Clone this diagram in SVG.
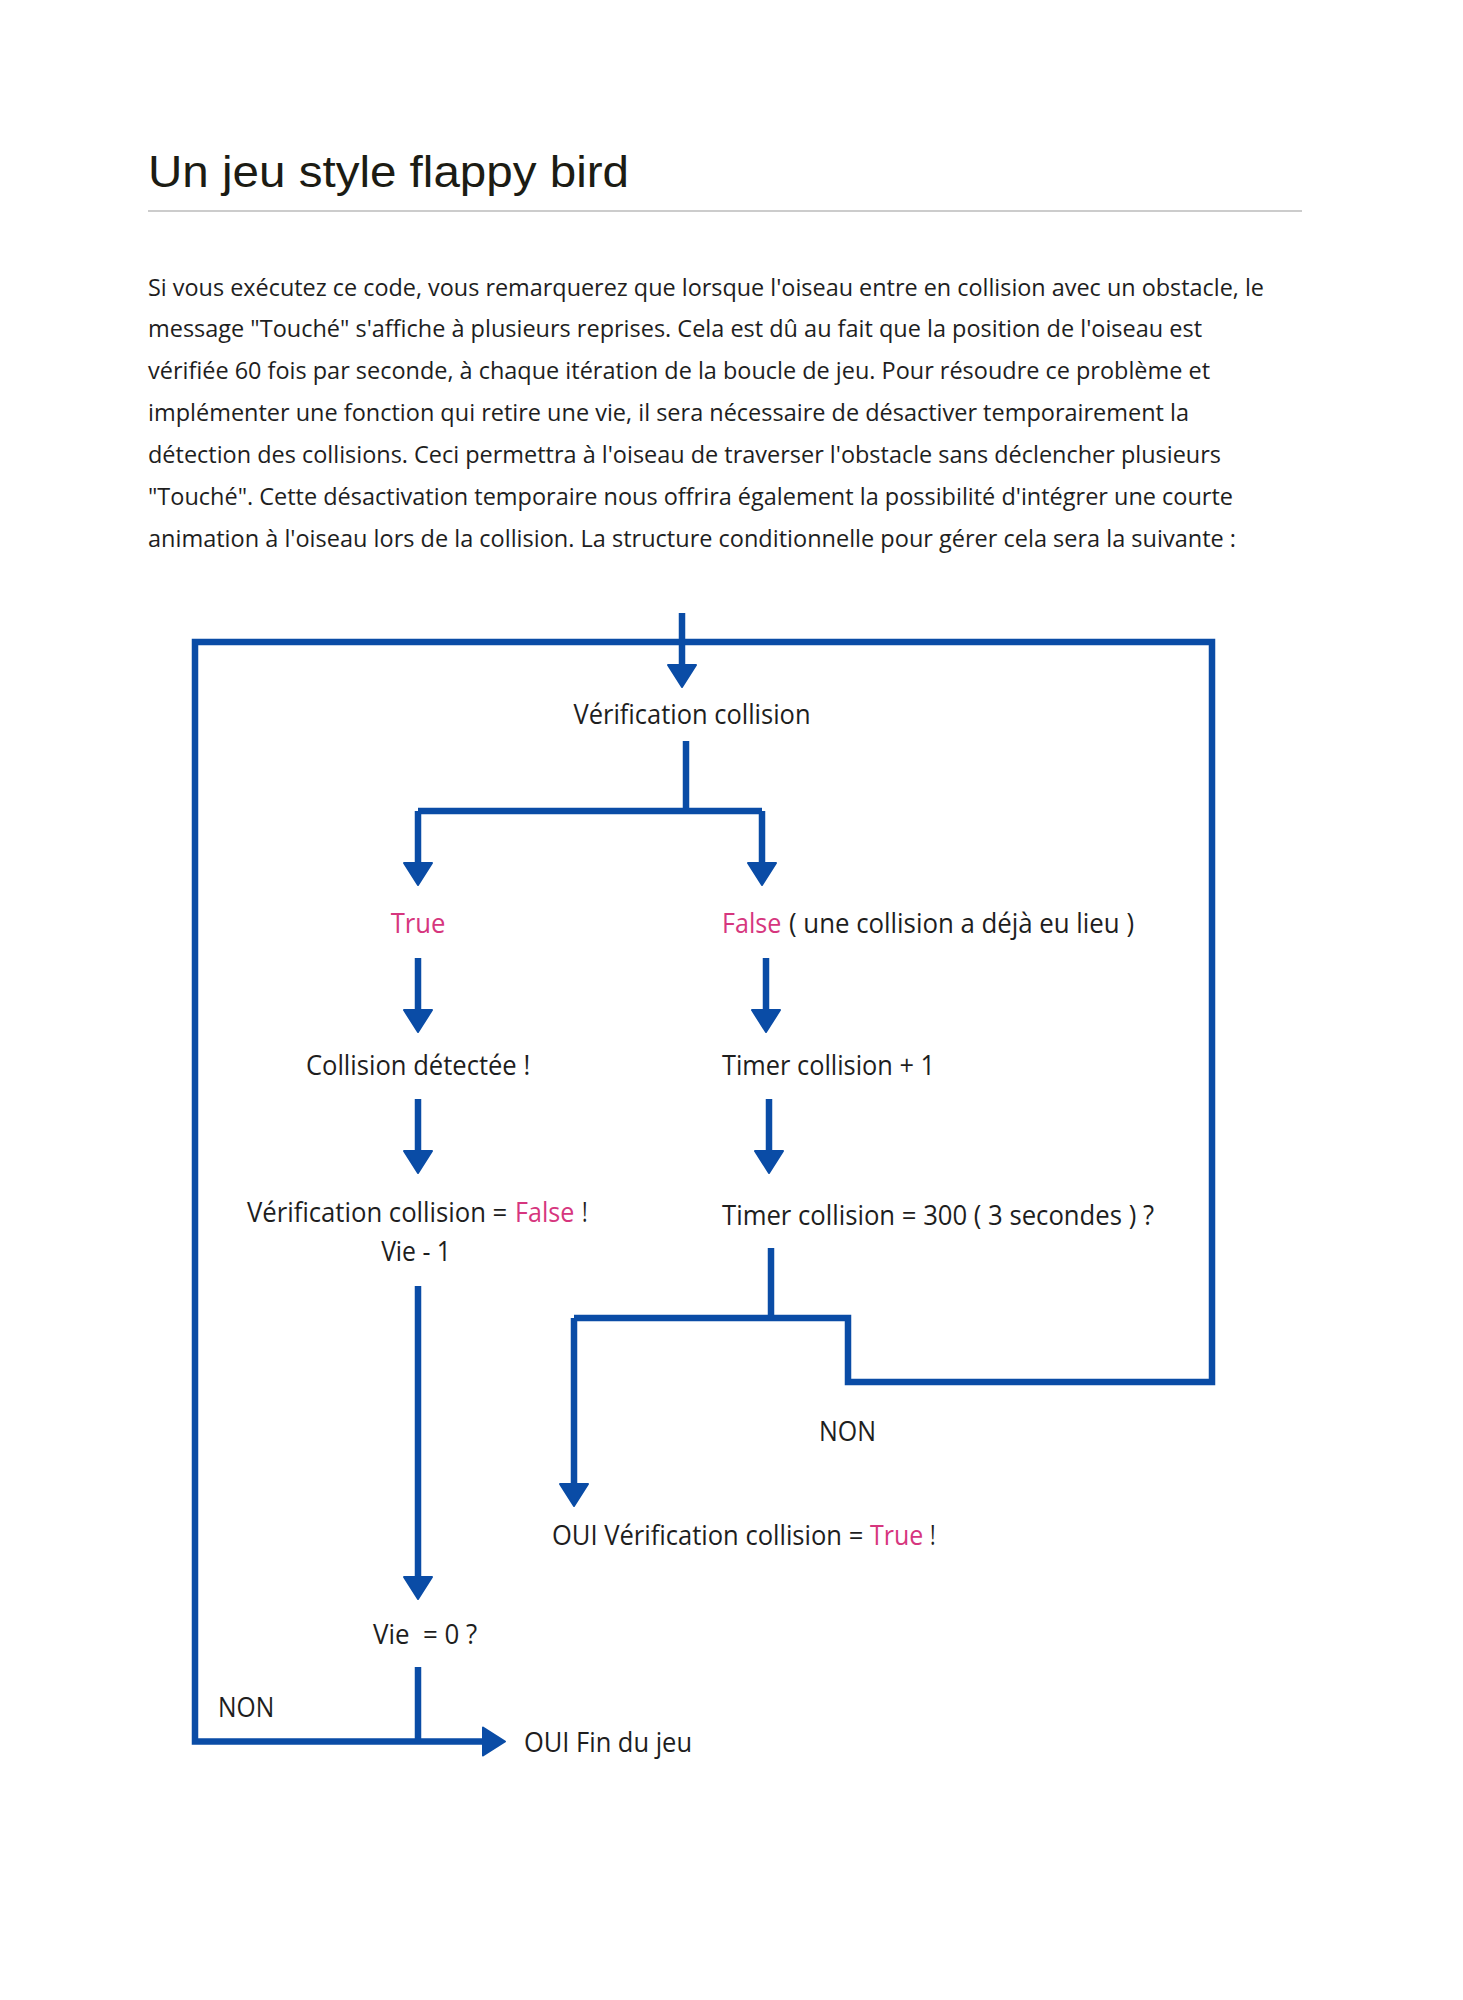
<svg xmlns="http://www.w3.org/2000/svg" width="1463" height="2000" viewBox="0 0 1463 2000">
<style>
.t{font-family:"Open Sans","Liberation Sans",sans-serif;fill:#1e1e1e;}
.p{font-size:23px;}
.n{font-size:28px;}
.pk{fill:#d6367e;}
.c{fill:none;stroke:#0a4ca6;stroke-width:6.5;stroke-linejoin:miter;}
</style>
<defs>
<marker id="ah" markerUnits="userSpaceOnUse" viewBox="-2 -17 26 34" markerWidth="26" markerHeight="34" refX="10" refY="0" orient="auto">
<path d="M0,-14 L22,0 L0,14 Z" fill="#0a4ca6" stroke="#0a4ca6" stroke-width="2" stroke-linejoin="round"/>
</marker>
</defs>
<rect width="1463" height="2000" fill="#ffffff"/>
<g id="header">
<text x="148" y="187" font-family="Liberation Sans, Arial, sans-serif" font-size="44" fill="#1c1c14" textLength="481" lengthAdjust="spacingAndGlyphs">Un jeu style flappy bird</text>
<line x1="148" y1="211" x2="1302" y2="211" stroke="#cccccc" stroke-width="2"/>
</g>
<g id="paragraph" class="t p">
<text x="148" y="296" textLength="1116" lengthAdjust="spacingAndGlyphs">Si vous exécutez ce code, vous remarquerez que lorsque l'oiseau entre en collision avec un obstacle, le</text>
<text x="148" y="337" textLength="1054" lengthAdjust="spacingAndGlyphs">message "Touché" s'affiche à plusieurs reprises. Cela est dû au fait que la position de l'oiseau est</text>
<text x="148" y="379" textLength="1062" lengthAdjust="spacingAndGlyphs">vérifiée 60 fois par seconde, à chaque itération de la boucle de jeu. Pour résoudre ce problème et</text>
<text x="148" y="421" textLength="1041" lengthAdjust="spacingAndGlyphs">implémenter une fonction qui retire une vie, il sera nécessaire de désactiver temporairement la</text>
<text x="148" y="463" textLength="1073" lengthAdjust="spacingAndGlyphs">détection des collisions. Ceci permettra à l'oiseau de traverser l'obstacle sans déclencher plusieurs</text>
<text x="148" y="505" textLength="1085" lengthAdjust="spacingAndGlyphs">"Touché". Cette désactivation temporaire nous offrira également la possibilité d'intégrer une courte</text>
<text x="148" y="547" textLength="1088" lengthAdjust="spacingAndGlyphs">animation à l'oiseau lors de la collision. La structure conditionnelle pour gérer cela sera la suivante :</text>
</g>
<g id="connectors">
<path class="c" d="M682,613 V675" marker-end="url(#ah)"/>
<path class="c" d="M574,1318 H848 V1382 H1212 V642 H195 V1741.5 H493" marker-end="url(#ah)"/>
<path class="c" d="M686,741 V811"/>
<path class="c" d="M418,811 H762"/>
<path class="c" d="M418,811 V873" marker-end="url(#ah)"/>
<path class="c" d="M762,811 V873" marker-end="url(#ah)"/>
<path class="c" d="M418,958 V1020" marker-end="url(#ah)"/>
<path class="c" d="M766,958 V1020" marker-end="url(#ah)"/>
<path class="c" d="M418,1099 V1161" marker-end="url(#ah)"/>
<path class="c" d="M769,1099 V1161" marker-end="url(#ah)"/>
<path class="c" d="M771,1248 V1318"/>
<path class="c" d="M574,1318 V1494" marker-end="url(#ah)"/>
<path class="c" d="M418,1286 V1587" marker-end="url(#ah)"/>
<path class="c" d="M418,1667 V1741.5"/>
</g>
<g id="n-verif" class="t n"><text transform="translate(692,724) scale(0.75,1)" text-anchor="middle" textLength="316" lengthAdjust="spacingAndGlyphs">Vérification collision</text></g>
<g id="n-true" class="t n"><text transform="translate(418,933) scale(0.75,1)" text-anchor="middle" class="pk" textLength="73" lengthAdjust="spacingAndGlyphs">True</text></g>
<g id="n-false" class="t n">
<text transform="translate(722,933) scale(0.75,1)" class="pk" textLength="79" lengthAdjust="spacingAndGlyphs">False</text>
<text transform="translate(789,933) scale(0.75,1)" textLength="460" lengthAdjust="spacingAndGlyphs">( une collision a déjà eu lieu )</text>
</g>
<g id="n-detect" class="t n"><text transform="translate(418,1075) scale(0.75,1)" text-anchor="middle" textLength="299" lengthAdjust="spacingAndGlyphs">Collision détectée !</text></g>
<g id="n-timer1" class="t n"><text transform="translate(722,1075) scale(0.75,1)" textLength="284" lengthAdjust="spacingAndGlyphs">Timer collision + 1</text></g>
<g id="n-setfalse" class="t n">
<text transform="translate(247,1222) scale(0.75,1)" textLength="347" lengthAdjust="spacingAndGlyphs">Vérification collision =</text>
<text transform="translate(515,1222) scale(0.75,1)" class="pk" textLength="79" lengthAdjust="spacingAndGlyphs">False</text>
<text transform="translate(582,1222) scale(0.75,1)">!</text>
<text transform="translate(416,1261) scale(0.75,1)" text-anchor="middle" textLength="93" lengthAdjust="spacingAndGlyphs">Vie - 1</text>
</g>
<g id="n-timer300" class="t n"><text transform="translate(722,1225) scale(0.75,1)" textLength="576" lengthAdjust="spacingAndGlyphs">Timer collision = 300 ( 3 secondes ) ?</text></g>
<g id="n-non1" class="t n"><text transform="translate(819,1441) scale(0.75,1)" textLength="76" lengthAdjust="spacingAndGlyphs">NON</text></g>
<g id="n-settrue" class="t n">
<text transform="translate(552,1545) scale(0.75,1)" textLength="415" lengthAdjust="spacingAndGlyphs">OUI Vérification collision =</text>
<text transform="translate(870,1545) scale(0.75,1)" class="pk" textLength="71" lengthAdjust="spacingAndGlyphs">True</text>
<text transform="translate(930,1545) scale(0.75,1)">!</text>
</g>
<g id="n-vie0" class="t n"><text transform="translate(373,1644) scale(0.75,1)" textLength="139" lengthAdjust="spacingAndGlyphs" xml:space="preserve">Vie  = 0 ?</text></g>
<g id="n-non2" class="t n"><text transform="translate(218,1717) scale(0.75,1)" textLength="75" lengthAdjust="spacingAndGlyphs">NON</text></g>
<g id="n-fin" class="t n"><text transform="translate(524,1752) scale(0.75,1)" textLength="224" lengthAdjust="spacingAndGlyphs">OUI Fin du jeu</text></g>
</svg>
